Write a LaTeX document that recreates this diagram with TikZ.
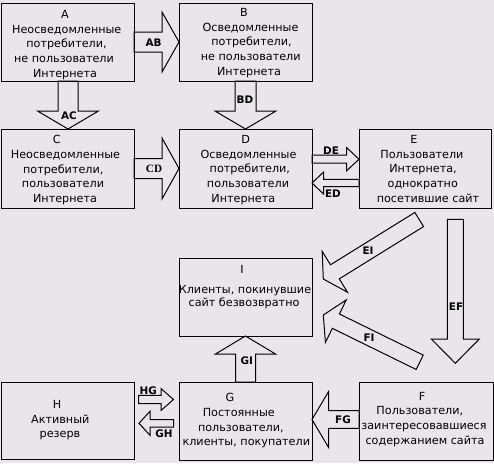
\documentclass[tikz,border=0pt]{standalone}
\usepackage{fontspec}
\setmainfont{DejaVu Sans}
\newfontfamily\labserif{Liberation Serif}
\usetikzlibrary{calc}
\definecolor{bg}{RGB}{233,230,233}
\newcommand\blockarr[5]{%
  \path ($(#2)!#5!(#1)$) coordinate (bA);
  \draw[arrline] ($(#1)!#3!90:(#2)$) -- ($(bA)!#3!90:(#2)$) -- ($(bA)!#4!90:(#2)$) -- (#2)
    -- ($(bA)!#4!-90:(#2)$) -- ($(bA)!#3!-90:(#2)$) -- ($(#1)!#3!-90:(#2)$) -- cycle;}
\newcommand\mv[2]{\hspace*{#1}#2\hspace*{-#1}}
\begin{document}
\begin{tikzpicture}[x=1pt,y=-1pt,
  box/.style={draw=black, line width=1pt, inner sep=0pt, outer sep=0pt,
    minimum width=133pt, minimum height=78pt},
  txt/.style={align=center, inner sep=0pt, anchor=north,
    font=\fontsize{11.2}{14.8}\selectfont},
  lab/.style={inner sep=0pt, font=\fontsize{10.4}{10}\selectfont\bfseries},
  arrline/.style={draw=black, line width=1pt, line join=miter}]
\fill[bg] (0,0) rectangle (494,463);
\useasboundingbox (0,0) rectangle (494,463);

% boxes
\node[box] (A) at (67.5,42) {};
\node[box] (B) at (245.5,42) {};
\node[box, minimum height=79pt] (C) at (67.5,168.5) {};
\node[box, minimum height=79pt] (D) at (245.5,168.5) {};
\node[box, minimum height=79pt, minimum width=132pt] (E) at (425,168.5) {};
\node[box] (I) at (245.5,297) {};
\node[box] (G) at (245.5,421) {};
\node[box, minimum height=77pt] (H) at (67.5,420.5) {};
\node[box, minimum width=134pt] (F) at (426,421) {};

% texts
\node[txt] (At) at (66.5,10) {\mv{-1.5pt}{A}\\\mv{0.5pt}{Неосведомленные}\\потребители,\\\mv{-5pt}{не пользователи}\\\mv{-1.5pt}{Интернета}};
\node[txt] (Bt) at (250,8) {\mv{-6pt}{B}\\\mv{1pt}{Осведомленные}\\\mv{3pt}{потребители,}\\\mv{1.5pt}{не пользователи}\\\mv{-1pt}{Интернета}};
\node[txt] (Ct) at (64,135) {\mv{-7.3pt}{C}\\\mv{3pt}{Неосведомленные}\\\mv{-1.5pt}{потребители,}\\\mv{-2pt}{пользователи}\\\mv{1pt}{Интернета}};
\node[txt] (Dt) at (248,135) {\mv{-2.2pt}{D}\\\mv{1pt}{Осведомленные}\\\mv{3.7pt}{потребители,}\\пользователи\\\mv{-4.7pt}{Интернета}};
\node[txt] (Et) at (423,135) {\mv{-9pt}{E}\\\mv{-2.2pt}{Пользователи}\\Интернета,\\\mv{-0.5pt}{однократно}\\\mv{5pt}{посетившие сайт}};
\node[txt] (It) at (245,265) {\mv{-3pt}{I}\\[5.5pt]Клиенты, покинувшие\\[-1.5pt]\mv{-1pt}{сайт безвозвратно}};
\node[txt] (Gt) at (240,393) {\mv{-10pt}{G}\\\mv{-2.5pt}{Постоянные}\\\mv{1.7pt}{пользователи,}\\\mv{6.3pt}{клиенты, покупатели}};
\node[txt] (Ht) at (60,400) {\mv{-3pt}{H}\\\mv{0.5pt}{Активный}\\резерв};
\node[txt] (Ft) at (423,391.7) {\mv{-1pt}{F}\\\mv{-6.3pt}{Пользователи,}\\\mv{2pt}{заинтересовавшиеся}\\\mv{2pt}{содержанием сайта}};

% connector end points
\coordinate (ABt) at (A.east);        \coordinate (ABh) at (B.west);
\coordinate (ACt) at ($(A.south)+(0.5,0)$); \coordinate (ACh) at ($(C.north)+(0.5,0)$);
\coordinate (BDt) at (B.south);       \coordinate (BDh) at (D.north);
\coordinate (CDt) at (C.east);        \coordinate (CDh) at (D.west);
\coordinate (DEt) at ($(D.east)+(0,-9.3)$); \coordinate (DEh) at ($(E.west)+(0,-9.3)$);
\coordinate (EDt) at ($(E.west)+(0,14.5)$); \coordinate (EDh) at ($(D.east)+(0,14.5)$);
\coordinate (EIt) at (419.2,219.5);   \coordinate (EIh) at (323.3,279);
\coordinate (FIt) at (419.7,362.3);   \coordinate (FIh) at (323.3,315);
\coordinate (EFt) at (455.3,219.3);   \coordinate (EFh) at (455.3,363.3);
\coordinate (FGt) at ($(F.west)+(0,-1.5)$); \coordinate (FGh) at ($(G.east)+(0,-1.5)$);
\coordinate (GIt) at (G.north);       \coordinate (GIh) at (I.south);
\coordinate (HGt) at (138.5,399.5);   \coordinate (HGh) at (173.5,399.5);
\coordinate (GHt) at (173.5,423.3);   \coordinate (GHh) at (139,423.3);

% block arrows
\blockarr{ABt}{ABh}{10pt}{30pt}{17pt}
\blockarr{ACt}{ACh}{10pt}{30.5pt}{18pt}
\blockarr{BDt}{BDh}{10.5pt}{30.5pt}{18pt}
\blockarr{CDt}{CDh}{10pt}{30.5pt}{17pt}
\blockarr{DEt}{DEh}{4pt}{11.7pt}{12.5pt}
\blockarr{EDt}{EDh}{3.7pt}{11pt}{11.5pt}
\blockarr{EIt}{EIh}{8.3pt}{24pt}{13.6pt}
\blockarr{FIt}{FIh}{8pt}{23.7pt}{14pt}
\blockarr{EFt}{EFh}{8pt}{24pt}{24.3pt}
\blockarr{FGt}{FGh}{8.8pt}{28pt}{16.6pt}
\blockarr{GIt}{GIh}{10pt}{30pt}{18pt}
\blockarr{HGt}{HGh}{4.2pt}{10.8pt}{12.3pt}
\blockarr{GHt}{GHh}{3.7pt}{12pt}{11pt}

% arrow labels
\node[lab] (ABl) at (153.5,42.7) {AB};
\node[lab] (ACl) at (69,115.5) {AC};
\node[lab] (BDl) at (245,99.3) {BD};
\node[lab, font=\fontsize{11.2}{11}\selectfont\labserif\bfseries] (CDl) at (154,168.8) {CD};
\node[lab] (DEl) at (331,150.5) {DE};
\node[lab] (EDl) at (333,193.7) {ED};
\node[lab] (EIl) at (368,250.5) {EI};
\node[lab] (FIl) at (369,338) {FI};
\node[lab] (EFl) at (456,307) {EF};
\node[lab] (FGl) at (343,419.7) {FG};
\node[lab] (GIl) at (246.7,360.3) {GI};
\node[lab] (HGl) at (148.3,390.3) {HG};
\node[lab] (GHl) at (164,433.7) {GH};
\end{tikzpicture}
\end{document}
